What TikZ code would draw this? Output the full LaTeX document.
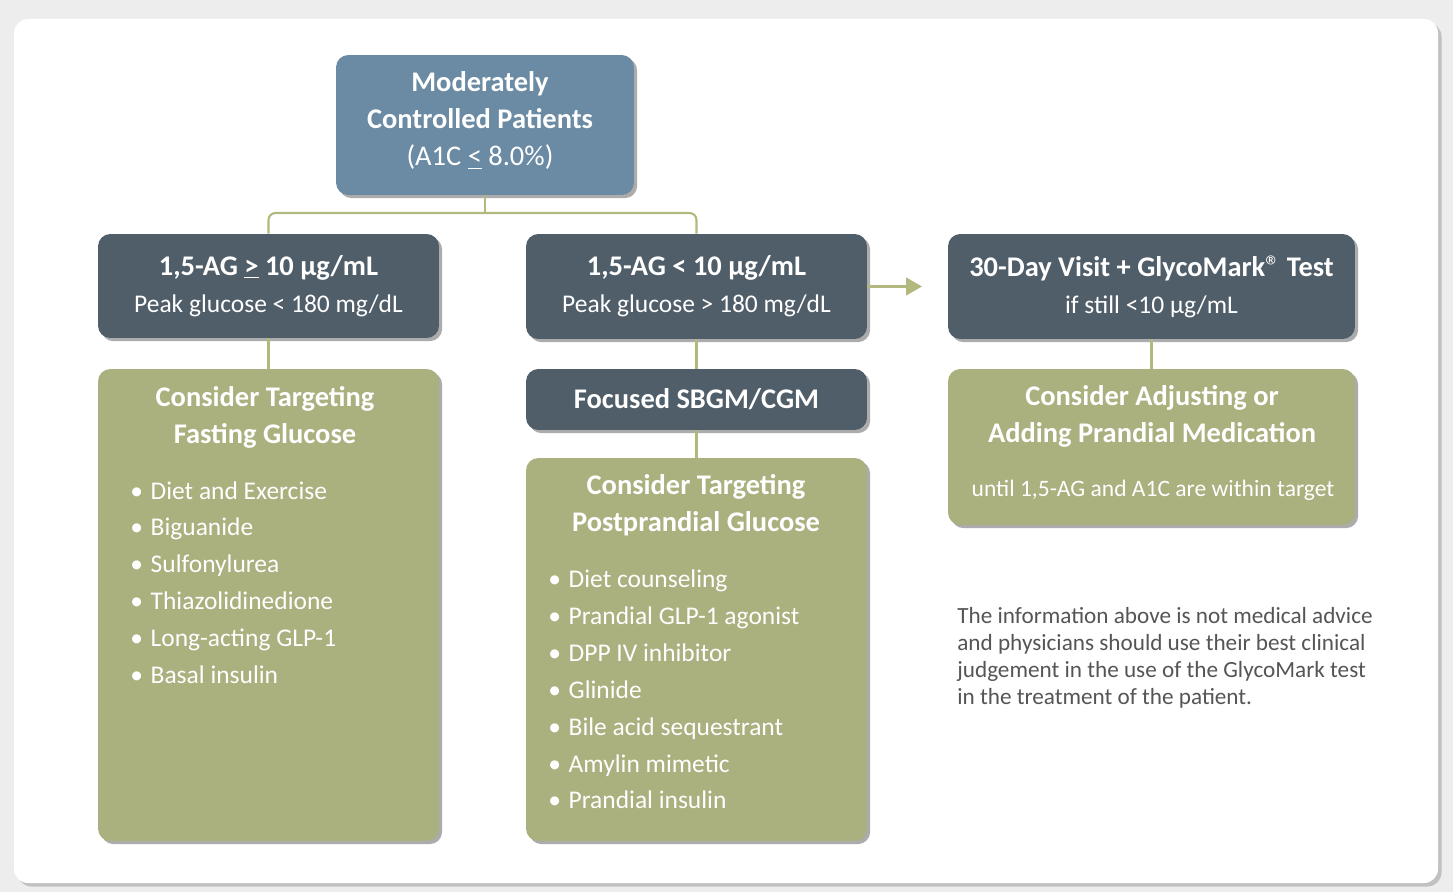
\documentclass[tikz,border=0pt]{standalone}
\usepackage{fontspec}
\setmainfont{Carlito}
\usetikzlibrary{positioning,shadows,arrows.meta}

\definecolor{steel}{HTML}{6A8BA3}
\definecolor{slate}{HTML}{505E69}
\definecolor{olive}{HTML}{ABB07F}
\definecolor{vine}{HTML}{B3B87F}
\definecolor{note}{HTML}{555555}

\newcommand\boxfont{\fontsize{14.5}{21}\selectfont}
\newcommand\headfont{\fontsize{16.2}{21}\selectfont\bfseries}
\newcommand\notefont{\fontsize{13.2}{15.4}\selectfont}
\newcommand\bul{\textbullet\hspace{0.3em}}
\newcommand\regmark{{\fontsize{17}{17}\selectfont\mdseries ®}}

\begin{document}
\begin{tikzpicture}[x=0.02cm,y=-0.02cm,
	box/.style={rounded corners=7pt, inner sep=0pt, text=white, align=center,
		font=\boxfont, minimum width=6.82cm,
		drop shadow={shadow xshift=1.8pt,shadow yshift=-1.8pt,opacity=.65}},
	dark/.style={box, fill=slate},
	panel/.style={box, fill=olive},
	head/.style={text=white, align=center, font=\headfont, inner sep=0pt},
	items/.style={text=white, align=left, font=\boxfont, inner sep=0pt, anchor=west},
	link/.style={draw=vine, line width=1.2pt}]

	\useasboundingbox (0,0) rectangle (1453,892);
	\fill[gray!14] (0,0) rectangle (1453,892);
	\fill[white, rounded corners=8pt, drop shadow={shadow xshift=2pt,shadow yshift=-2pt,opacity=.4}]
		(14,19) rectangle (1438,883);

	% top
	\node[box, fill=steel, minimum width=5.96cm, minimum height=2.8cm] (mod) at (485,125) {};
	\node[text=white, align=center, inner sep=0pt, font=\fontsize{16.2}{21}\selectfont] (modtext) at (480,120.5)
		{\textbf{Moderately}\\\textbf{Controlled Patients}\\(A1C \underline{<} 8.0\%)};

	% second row
	\node[dark, minimum height=2.08cm] (high) at (268.5,286)
		{{\headfont 1,5-AG \underline{>} 10 µg/mL}\\Peak glucose < 180 mg/dL};
	\node[dark, minimum height=2.1cm] (low) at (696.5,286.5)
		{{\headfont 1,5-AG < 10 µg/mL}\\Peak glucose > 180 mg/dL};
	\node[dark, minimum width=8.14cm, minimum height=2.1cm] (visit) at (1151.5,286.5)
		{{\headfont 30-Day Visit + GlycoMark\regmark{} Test}\\if still <10 µg/mL};

	% lower boxes
	\node[panel, minimum height=9.44cm] (fast) at (268.5,605) {};
	\node[dark, minimum height=1.22cm, font=\headfont] (sbgm) at (696.5,399.5) {Focused SBGM/CGM};
	\node[panel, minimum height=7.66cm] (post) at (696.5,649.5) {};
	\node[panel, minimum width=8.14cm, minimum height=3.12cm] (adjust) at (1151.5,447) {};

	\node[head] (fasthead) at (265,417.5) {Consider Targeting\\Fasting Glucose};
	\node[items] (fastlist) at (130,582.5) {\bul Diet and Exercise\\\bul Biguanide\\\bul Sulfonylurea\\
		\bul Thiazolidinedione\\\bul Long-acting GLP-1\\\bul Basal insulin};

	\node[head] (posthead) at (696,505.5) {Consider Targeting\\Postprandial Glucose};
	\node[items] (postlist) at (548,689.5) {\bul Diet counseling\\\bul Prandial GLP-1 agonist\\
		\bul DPP IV inhibitor\\\bul Glinide\\\bul Bile acid sequestrant\\\bul Amylin mimetic\\\bul Prandial insulin};

	\node[head] (adjusthead) at (1152,416) {Consider Adjusting or\\Adding Prandial Medication};
	\node[text=white, font=\fontsize{13.4}{16}\selectfont, inner sep=0pt] (adjustnote) at (1153,490)
		{until 1,5-AG and A1C are within target};

	\node[text=note, font=\notefont, align=left, inner sep=0pt, anchor=west] (advice) at (957,658)
		{The information above is not medical advice\\and physicians should use their best clinical\\
		judgement in the use of the GlycoMark test\\in the treatment of the patient.};

	% connectors
	\coordinate (split) at (485,213);
	\coordinate (ahead) at (922,286.5);
	\draw[link] (mod.south) -- (split);
	\draw[link, rounded corners=4pt] (high.north) |- (split) -| (low.north);
	\draw[link] (high) -- (fast);
	\draw[link] (low) -- (sbgm);
	\draw[link] (sbgm) -- (post);
	\draw[link] (visit) -- (adjust);
	\draw[link, -{Triangle[length=9pt,width=10pt]}] (low.east) -- (ahead);
\end{tikzpicture}
\end{document}
